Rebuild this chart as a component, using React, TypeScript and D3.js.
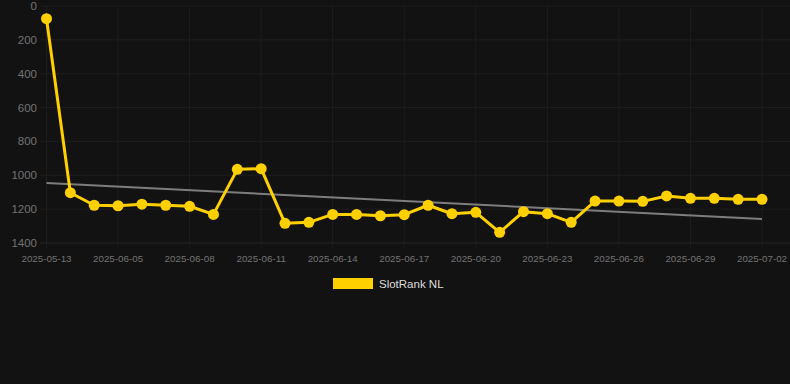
import React from "react";
import * as d3 from "d3";

const dates: string[] = [
  "2025-05-13", "2025-06-03", "2025-06-04", "2025-06-05", "2025-06-06", "2025-06-07",
  "2025-06-08", "2025-06-09", "2025-06-10", "2025-06-11", "2025-06-12", "2025-06-13",
  "2025-06-14", "2025-06-15", "2025-06-16", "2025-06-17", "2025-06-18", "2025-06-19",
  "2025-06-20", "2025-06-21", "2025-06-22", "2025-06-23", "2025-06-24", "2025-06-25",
  "2025-06-26", "2025-06-27", "2025-06-28", "2025-06-29", "2025-06-30", "2025-07-01",
  "2025-07-02",
];
const ranks: number[] = [
  75, 1103, 1177, 1180, 1171, 1177, 1183, 1231, 965, 961,
  1284, 1278, 1231, 1231, 1239, 1233, 1177, 1227, 1219, 1337,
  1215, 1227, 1278, 1152, 1152, 1154, 1122, 1136, 1136, 1142, 1142,
];
const trendValues: number[] = [1046, 1258];
const yTicks: number[] = [0, 200, 400, 600, 800, 1000, 1200, 1400];
const xTickLabels: string[] = dates.filter((_, i) => i % 3 === 0);
const seriesName = "SlotRank NL";

const W = 790;
const H = 384;
const FONT = "'Liberation Sans', Arial, Helvetica, sans-serif";

export default function App() {
  const x = d3.scalePoint<string>().domain(dates).range([46.5, 762]);
  const y = d3.scaleLinear().domain([0, 1400]).range([6, 243]);
  const line = d3
    .line<number>()
    .x((_, i) => x(dates[i]) as number)
    .y((d) => y(d));
  const trendX = [x(dates[0]) as number, x(dates[dates.length - 1]) as number];

  return (
    <svg
      width={W}
      height={H}
      style={{ position: "fixed", left: 0, top: 0, background: "#121212", display: "block" }}
    >
      <rect x={0} y={0} width={W} height={H} fill="#121212" />
      {yTicks.map((t) => (
        <g key={t}>
          <line
            x1={40}
            x2={790}
            y1={y(t)}
            y2={y(t)}
            stroke={t === 1400 ? "#252525" : "#1d1d1d"}
            strokeWidth={1}
          />
          <text
            x={37}
            y={y(t)}
            dy="0.35em"
            textAnchor="end"
            fill="#737373"
            fontSize={11.5}
            fontFamily={FONT}
          >
            {t}
          </text>
        </g>
      ))}
      {xTickLabels.map((d) => (
        <g key={d}>
          <line
            x1={x(d) as number}
            x2={x(d) as number}
            y1={y(0)}
            y2={248}
            stroke="#1d1d1d"
            strokeWidth={1}
          />
          <text
            x={x(d) as number}
            y={262}
            textAnchor="middle"
            fill="#737373"
            fontSize={9.8}
            fontFamily={FONT}
          >
            {d}
          </text>
        </g>
      ))}
      <line
        x1={trendX[0]}
        x2={trendX[1]}
        y1={y(trendValues[0])}
        y2={y(trendValues[1])}
        stroke="#7d7d7d"
        strokeWidth={2}
      />
      <path d={line(ranks) || ""} fill="none" stroke="#FFD000" strokeWidth={3} strokeLinejoin="round" />
      {ranks.map((v, i) => (
        <circle key={i} cx={x(dates[i]) as number} cy={y(v)} r={5.5} fill="#FFD000" />
      ))}
      <rect x={333} y={278} width={40} height={11} fill="#FFD000" />
      <text x={379} y={288} fill="#dddddd" fontSize={11.5} fontFamily={FONT}>
        {seriesName}
      </text>
    </svg>
  );
}
